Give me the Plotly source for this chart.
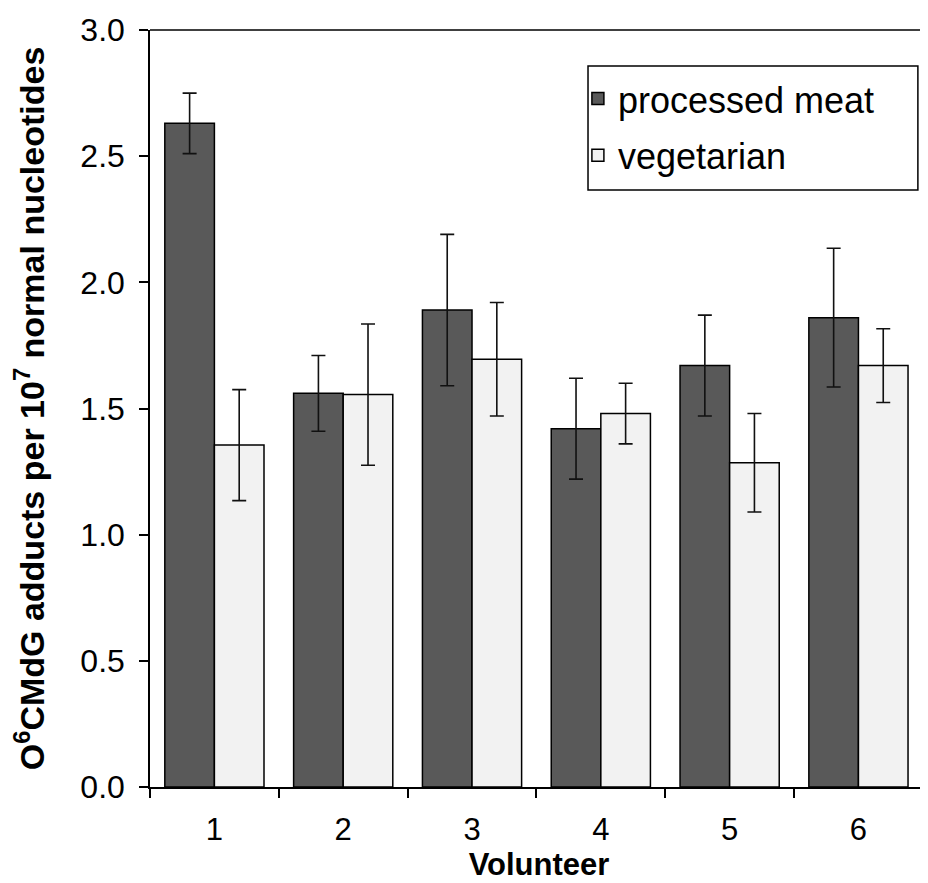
import plotly.graph_objects as go

volunteers = ["1", "2", "3", "4", "5", "6"]
meat = [2.63, 1.56, 1.89, 1.42, 1.67, 1.86]
meat_err = [0.12, 0.15, 0.30, 0.20, 0.20, 0.275]
veg = [1.355, 1.555, 1.695, 1.48, 1.285, 1.67]
veg_err = [0.22, 0.28, 0.225, 0.12, 0.195, 0.146]

fig = go.Figure()
fig.add_trace(go.Bar(
    x=volunteers, y=meat, name="processed meat",
    marker=dict(color="#595959", line=dict(color="#000000", width=1.5)),
    error_y=dict(type="data", array=meat_err, visible=True, color="#111111", thickness=1.6, width=7),
    legendgroup="a",
))
fig.add_trace(go.Bar(
    x=volunteers, y=veg, name="vegetarian",
    marker=dict(color="#f2f2f2", line=dict(color="#000000", width=1.5)),
    error_y=dict(type="data", array=veg_err, visible=True, color="#111111", thickness=1.6, width=7),
    legendgroup="b",
))

fig.update_layout(
    width=920, height=875,
    margin=dict(l=142, r=0, t=22, b=96),
    paper_bgcolor="white", plot_bgcolor="white",
    barmode="group", bargap=0.23, bargroupgap=0,
    font=dict(family="Liberation Sans, Arial, sans-serif", color="black"),
    legend=dict(
        x=0.550, y=0.949, xanchor="left", yanchor="top",
        borderwidth=0, bgcolor="rgba(0,0,0,0)",
        font=dict(size=36), tracegroupgap=7, traceorder="grouped",
        itemwidth=30,
    ),
    shapes=[
        dict(type="line", xref="paper", yref="paper", x0=0, x1=1, y0=1, y1=1,
             line=dict(color="black", width=1.5)),
        dict(type="rect", xref="paper", yref="paper", x0=0.563, x1=0.987, y0=0.7886, y1=0.9524,
             line=dict(color="black", width=1.5), fillcolor="rgba(0,0,0,0)", layer="above"),
    ],
)
fig.update_xaxes(
    type="category", range=[-0.5, 5.54],
    showline=True, linecolor="black", linewidth=1.5,
    ticks="outside", tickson="boundaries", ticklen=9, tickcolor="black", tickwidth=1.5,
    tickfont=dict(size=31), ticklabelstandoff=14,
    title=dict(text="<b>Volunteer</b>", font=dict(size=31), standoff=6),
    showgrid=False,
)
fig.update_yaxes(
    range=[0, 3], dtick=0.5, tickformat=".1f",
    showline=True, linecolor="black", linewidth=1.5,
    ticks="outside", ticklen=9, tickcolor="black", tickwidth=1.5,
    tickfont=dict(size=32), ticklabelstandoff=8,
    title=dict(text="<b>O<sup>6</sup>CMdG adducts per 10<sup>7</sup> normal nucleotides</b>",
               font=dict(size=34), standoff=47),
    showgrid=False, zeroline=False,
)

fig.write_html("out.html")
